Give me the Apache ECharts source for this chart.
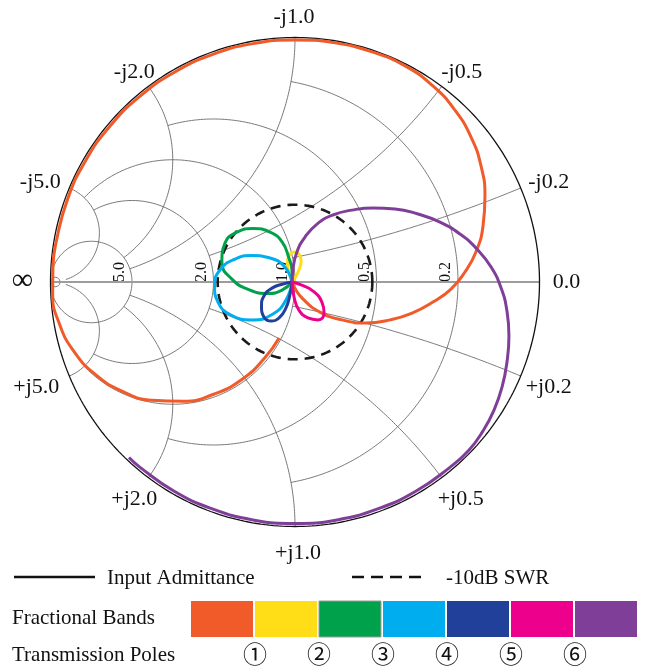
<!DOCTYPE html>
<html>
<head>
<meta charset="utf-8">
<script src="https://cdn.jsdelivr.net/npm/echarts@6/dist/echarts.min.js"></script>
<style>
  html, body { margin: 0; padding: 0; background: #fff; }
  #chart { width: 646px; height: 667px; }
</style>
</head>
<body>
<div id="chart"></div>
<script>
// Smith chart grid (admittance form): [value, drawn up to]
const conductanceGrid = [[0.2, 1], [0.5, 2], [1, 5], [2, 5], [5, 30]];
const susceptanceGrid = [[0.2, 1], [0.5, 2], [1, 5], [2, 5], [5, 30]];
const conductanceTicks = [0.2, 0.5, 1, 2, 5];
const susceptanceTicks = [-5, -2, -1, -0.5, -0.2, 0.2, 0.5, 1, 2, 5];
const swrLevelDb = -10;

// Input admittance trace as reflection coefficient [re, im], one array per fractional band
const band1 = [
  [-0.065, -0.229], [-0.125, -0.312], [-0.216, -0.398], [-0.330, -0.458], [-0.455, -0.488],
  [-0.585, -0.484], [-0.708, -0.446], [-0.818, -0.377], [-0.905, -0.283], [-0.964, -0.170],
  [-0.991, -0.050], [-0.990, 0.060], [-0.975, 0.172], [-0.930, 0.339], [-0.857, 0.495],
  [-0.758, 0.636], [-0.636, 0.758], [-0.495, 0.857], [-0.339, 0.930], [-0.172, 0.975],
  [0.000, 0.990], [0.164, 0.978], [0.315, 0.941], [0.450, 0.884], [0.564, 0.802],
  [0.654, 0.703], [0.720, 0.593], [0.761, 0.474], [0.777, 0.352], [0.769, 0.229],
  [0.740, 0.123], [0.695, 0.041], [0.638, -0.029], [0.564, -0.082], [0.479, -0.127],
  [0.389, -0.155], [0.290, -0.168], [0.192, -0.155], [0.102, -0.123], [0.033, -0.070],
  [-0.004, -0.020], [-0.012, 0.000]
];
const band2 = [
  [-0.012, 0.000], [-0.025, 0.041], [-0.031, 0.078], [-0.025, 0.106], [-0.004, 0.123],
  [0.016, 0.115], [0.025, 0.086], [0.016, 0.049], [0.000, 0.016], [-0.012, 0.000]
];
const band3 = [
  [-0.012, 0.000], [-0.053, -0.033], [-0.110, -0.047], [-0.184, -0.033], [-0.258, 0.012],
  [-0.299, 0.082], [-0.286, 0.160], [-0.237, 0.204], [-0.172, 0.219], [-0.102, 0.204],
  [-0.053, 0.164], [-0.025, 0.098], [-0.012, 0.041], [-0.012, 0.000]
];
const band4 = [
  [-0.012, 0.000], [-0.037, -0.074], [-0.090, -0.131], [-0.176, -0.155], [-0.262, -0.135],
  [-0.315, -0.082], [-0.329, -0.016], [-0.307, 0.049], [-0.245, 0.094], [-0.176, 0.108],
  [-0.102, 0.098], [-0.045, 0.065], [-0.012, 0.000]
];
const band5 = [
  [-0.012, 0.000], [-0.020, -0.049], [-0.037, -0.106], [-0.065, -0.147], [-0.098, -0.160],
  [-0.127, -0.143], [-0.137, -0.098], [-0.127, -0.057], [-0.094, -0.025], [-0.049, -0.008],
  [-0.012, 0.000]
];
const band6 = [
  [-0.012, 0.000], [0.025, -0.012], [0.074, -0.037], [0.110, -0.082], [0.119, -0.127],
  [0.094, -0.155], [0.053, -0.147], [0.016, -0.115], [-0.004, -0.061], [-0.012, 0.000]
];
const band7 = [
  [-0.012, 0.000], [-0.008, 0.057], [0.008, 0.123], [0.041, 0.184], [0.090, 0.237],
  [0.155, 0.274], [0.233, 0.294], [0.319, 0.303], [0.409, 0.299], [0.503, 0.278],
  [0.593, 0.245], [0.675, 0.196], [0.744, 0.135], [0.802, 0.061], [0.843, -0.025],
  [0.867, -0.119], [0.875, -0.221], [0.867, -0.327], [0.847, -0.429], [0.814, -0.524],
  [0.769, -0.609], [0.712, -0.687], [0.635, -0.757], [0.494, -0.856], [0.338, -0.928],
  [0.172, -0.973], [0.000, -0.988], [-0.172, -0.973], [-0.338, -0.928], [-0.494, -0.856],
  [-0.635, -0.757], [-0.679, -0.718]
];

const bands = [band1, band2, band3, band4, band5, band6, band7];
const bandColors = ['#F15A29', '#FFDE17', '#00A14B', '#00AEEF', '#21409A', '#EC008C', '#7F3F98'];
const poleLabels = ['\u2460', '\u2461', '\u2462', '\u2463', '\u2464', '\u2465'];

const SERIF = '"Liberation Serif", "Times New Roman", serif';

// y = g + jb  ->  reflection coefficient (1 - y) / (1 + y)
function toGamma(g, b) {
  const nr = 1 - g, ni = -b, dr = 1 + g, di = b;
  const den = dr * dr + di * di;
  return [(nr * dr + ni * di) / den, (ni * dr - nr * di) / den];
}

function conductanceArc(g, bEnd) {
  const c = -g / (1 + g), r = 1 / (1 + g);
  const e = toGamma(g, -bEnd);
  const th = Math.atan2(e[1], e[0] - c);
  const pts = [];
  const n = 200;
  for (let i = 0; i <= n; i++) {
    const t = -th + 2 * th * i / n;
    pts.push([c + r * Math.cos(t), r * Math.sin(t)]);
  }
  return pts;
}

function susceptanceArc(b, gEnd) {
  const cx = -1, cy = -1 / b, r = Math.abs(1 / b);
  const a = toGamma(0, b), e = toGamma(gEnd, b);
  const t0 = Math.atan2(a[1] - cy, a[0] - cx);
  let d = Math.atan2(e[1] - cy, e[0] - cx) - t0;
  while (d > Math.PI) d -= 2 * Math.PI;
  while (d < -Math.PI) d += 2 * Math.PI;
  const pts = [];
  const n = 200;
  for (let i = 0; i <= n; i++) {
    const t = t0 + d * i / n;
    pts.push([cx + r * Math.cos(t), cy + r * Math.sin(t)]);
  }
  return pts;
}

function circle(radius) {
  const pts = [];
  for (let i = 0; i <= 360; i++) {
    const t = i * Math.PI / 180;
    pts.push([radius * Math.cos(t), radius * Math.sin(t)]);
  }
  return pts;
}

function plainLine(data, color, width, type, z) {
  return {
    type: 'line', data, showSymbol: false, silent: true, animation: false, clip: false,
    lineStyle: { color, width, type: type || 'solid' }, z: z || 2
  };
}

const series = [];
conductanceGrid.forEach(([g, bEnd]) => series.push(plainLine(conductanceArc(g, bEnd), '#6b6b6b', 0.9)));
susceptanceGrid.forEach(([b, gEnd]) => {
  series.push(plainLine(susceptanceArc(-b, gEnd), '#6b6b6b', 0.9));
  series.push(plainLine(susceptanceArc(b, gEnd), '#6b6b6b', 0.9));
});
series.push(plainLine(conductanceArc(50, 1e6), '#6b6b6b', 0.9));
series.push(plainLine([[-1, 0], [1, 0]], '#9d9d9d', 1.8));
series.push(plainLine(circle(1), '#111', 1.3, 'solid', 3));

const swrRadius = Math.pow(10, swrLevelDb / 20);
series.push(plainLine(circle(swrRadius), '#1a1a1a', 2.6, [10, 7], 4));

bands.forEach((band, i) => {
  series.push({
    type: 'line', data: band, showSymbol: false, silent: true, animation: false,
    smooth: 0.5, clip: false, z: 5,
    lineStyle: { color: bandColors[i], width: 3 }
  });
});

const chart = echarts.init(document.getElementById('chart'));
chart.setOption({
  animation: false,
  backgroundColor: '#fff',
  grid: { left: 50.5, top: 37.5, width: 489, height: 489 },
  xAxis: { type: 'value', min: -1, max: 1, show: false },
  yAxis: { type: 'value', min: -1, max: 1, show: false },
  series
});

// Text placed from the chart scale
const px = p => chart.convertToPixel({ gridIndex: 0 }, p);
const graphics = [];

const rimOffsets = {
  '-5': [-29, -6], '-2': [-14, -14], '-1': [-1, -20], '-0.5': [20, -14], '-0.2': [28, -6],
  '0.2': [28, 11], '0.5': [19, 22], '1': [3, 27], '2': [-14, 22], '5': [-33, 11]
};
susceptanceTicks.forEach(b => {
  const p = px(toGamma(0, b));
  const o = rimOffsets[String(b)];
  graphics.push({
    type: 'text', x: p[0] + o[0], y: p[1] + o[1], silent: true,
    style: { text: (b < 0 ? '-j' : '+j') + Math.abs(b).toFixed(1), font: '22px ' + SERIF,
             fill: '#111', align: 'center', verticalAlign: 'middle' }
  });
});
{
  const p0 = px(toGamma(0, 0));
  graphics.push({ type: 'text', x: p0[0] + 27, y: p0[1], silent: true,
    style: { text: '0.0', font: '22px ' + SERIF, fill: '#111', align: 'center', verticalAlign: 'middle' } });
  const pInf = px([-1, 0]);
  graphics.push({ type: 'text', x: pInf[0] - 28, y: pInf[1] - 1, silent: true,
    style: { text: '\u221E', font: '30px ' + SERIF, fill: '#111', align: 'center', verticalAlign: 'middle' } });
}
conductanceTicks.forEach(g => {
  const p = px(toGamma(g, 0));
  graphics.push({
    type: 'text', x: p[0] - 12, y: p[1] - 10, rotation: Math.PI / 2, silent: true,
    style: { text: g.toFixed(1), font: '16px ' + SERIF, fill: '#111', align: 'center', verticalAlign: 'middle' }
  });
});

// Legend
const LEGEND_FONT = '21px ' + SERIF;
graphics.push({ type: 'line', shape: { x1: 14, y1: 577, x2: 95, y2: 577 }, silent: true,
  style: { stroke: '#111', lineWidth: 2.6 } });
graphics.push({ type: 'text', x: 107, y: 578, silent: true,
  style: { text: 'Input Admittance', font: LEGEND_FONT, fill: '#111', verticalAlign: 'middle' } });
graphics.push({ type: 'line', shape: { x1: 352, y1: 577, x2: 424, y2: 577 }, silent: true,
  style: { stroke: '#111', lineWidth: 2.6, lineDash: [12, 7] } });
graphics.push({ type: 'text', x: 446, y: 578, silent: true,
  style: { text: '-10dB SWR', font: LEGEND_FONT, fill: '#111', verticalAlign: 'middle' } });
graphics.push({ type: 'text', x: 12, y: 618, silent: true,
  style: { text: 'Fractional Bands', font: LEGEND_FONT, fill: '#111', verticalAlign: 'middle' } });
graphics.push({ type: 'text', x: 12, y: 655, silent: true,
  style: { text: 'Transmission Poles', font: LEGEND_FONT, fill: '#111', verticalAlign: 'middle' } });
bandColors.forEach((c, i) => {
  graphics.push({ type: 'rect', silent: true, shape: { x: 191 + 64 * i, y: 601, width: 62, height: 36 },
    style: { fill: c, stroke: i === 2 ? '#9a9a9a' : null, lineWidth: 1 } });
});
poleLabels.forEach((t, i) => {
  graphics.push({ type: 'text', x: 255 + 64 * i, y: 654, silent: true,
    style: { text: t, font: '24px "Noto Sans CJK JP", "DejaVu Sans", sans-serif', fill: '#111',
             align: 'center', verticalAlign: 'middle' } });
});

chart.setOption({ graphic: graphics });
</script>
</body>
</html>
